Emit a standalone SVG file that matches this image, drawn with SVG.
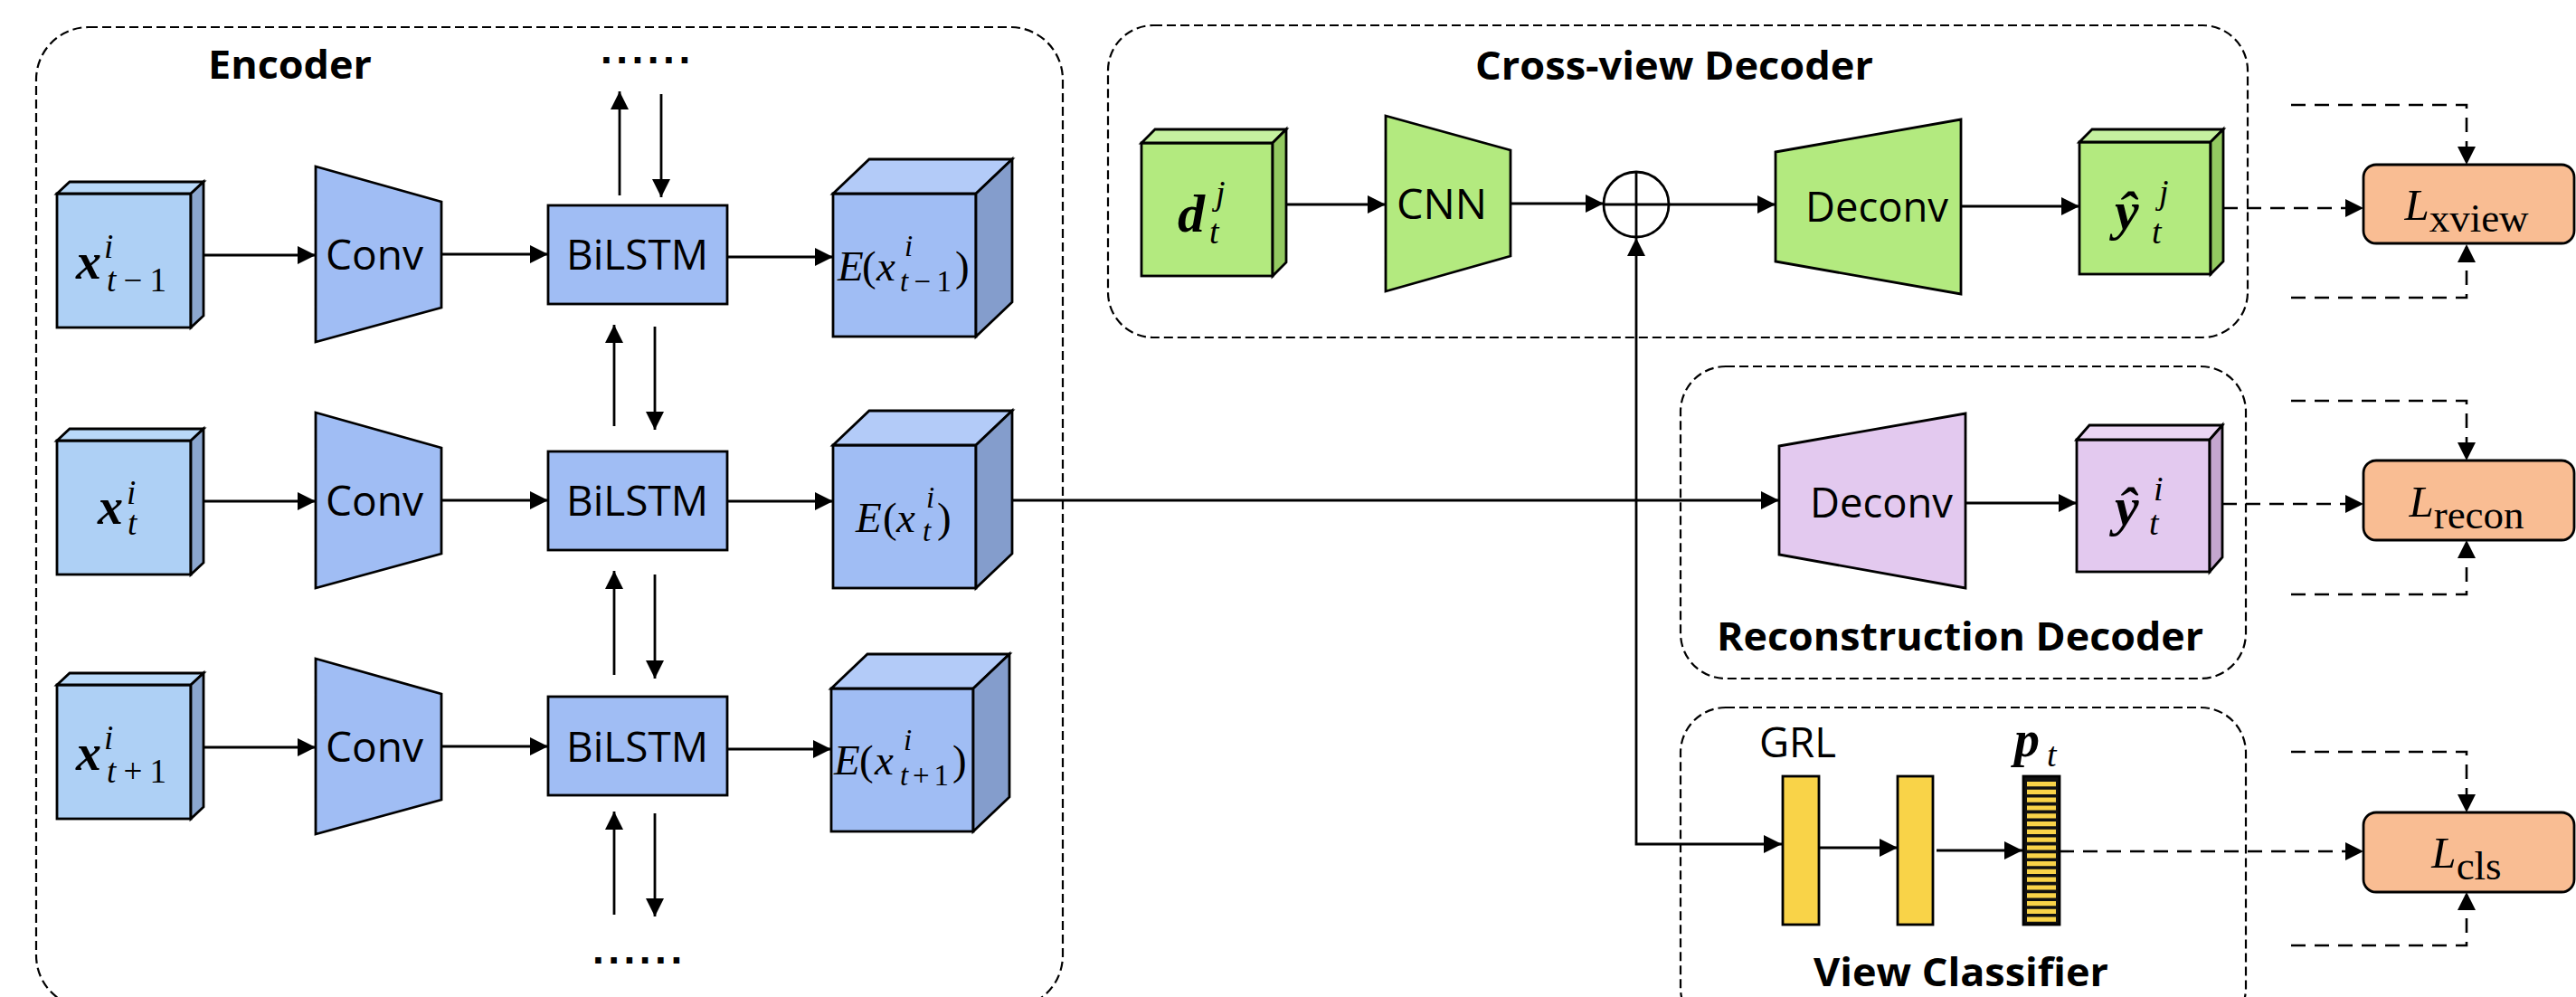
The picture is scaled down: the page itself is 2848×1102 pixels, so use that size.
<svg xmlns="http://www.w3.org/2000/svg" width="2848" height="1102" viewBox="0 0 2848 1102">
<defs>
<marker id="ah" markerUnits="userSpaceOnUse" markerWidth="22" markerHeight="22" refX="20" refY="10" orient="auto"><path d="M0,0 L20,10 L0,20 z" fill="#000"/></marker>
</defs>
<style>
.grp{fill:none;stroke:#000;stroke-width:2.2;stroke-dasharray:10 5}
.sh{stroke:#000;stroke-width:2.8;stroke-linejoin:miter}
.ln{fill:none;stroke:#000;stroke-width:2.8;marker-end:url(#ah)}
.dl{fill:none;stroke:#000;stroke-width:2.6;stroke-dasharray:16 10;marker-end:url(#ah)}
.lbl{font-family:"Open Sans","Liberation Sans",sans-serif;font-size:46px;fill:#000}
.ttl{font-family:"Open Sans","Liberation Sans",sans-serif;font-size:43px;font-weight:700;fill:#000}
.dots{font-family:"Liberation Sans",sans-serif;font-size:46px;font-weight:700;letter-spacing:4.5px;fill:#000}
.m{font-family:"Liberation Serif","DejaVu Serif",serif;fill:#000}
.bi{font-weight:700;font-style:italic}
.it{font-style:italic}
.inf{fill:#aed0f5}.int{fill:#b9d9f9}.ins{fill:#8ba7cf}
.bl{fill:#a0bdf4}.blt{fill:#b3cbf8}.bls{fill:#849dcc}
.gr{fill:#b3ea7f}.grt{fill:#c5f1a0}.grs{fill:#93c961}
.pu{fill:#e3c9ef}.put{fill:#ead5f3}.pus{fill:#c4a6cf}
.ye{fill:#f9d348}
.lo{fill:#f9bd93;stroke:#000;stroke-width:2.8}
</style>

<g id="containers">
<rect id="encoder-box" class="grp" x="40" y="30" width="1135" height="1084" rx="58" ry="58"/>
<rect id="crossview-box" class="grp" x="1225" y="28" width="1260" height="345" rx="50" ry="50"/>
<rect id="recon-box" class="grp" x="1858" y="405" width="625" height="345" rx="50" ry="50"/>
<rect id="cls-box" class="grp" x="1858" y="782" width="625" height="360" rx="50" ry="50"/>
<text class="ttl" x="230" y="87" textLength="181" lengthAdjust="spacingAndGlyphs">Encoder</text>
<text class="ttl" x="1631" y="88" textLength="440" lengthAdjust="spacingAndGlyphs">Cross-view Decoder</text>
<text class="ttl" x="1898" y="719" textLength="538" lengthAdjust="spacingAndGlyphs">Reconstruction Decoder</text>
<text class="ttl" x="2005" y="1090" font-size="42" textLength="326" lengthAdjust="spacingAndGlyphs">View Classifier</text>
</g>

<g id="connectors">
<path class="ln" d="M225,282 H349"/>
<path class="ln" d="M225,554 H349"/>
<path class="ln" d="M225,826 H349"/>
<path class="ln" d="M488,281 H606"/>
<path class="ln" d="M488,553 H606"/>
<path class="ln" d="M488,825 H606"/>
<path class="ln" d="M804,284 H921"/>
<path class="ln" d="M804,554 H921"/>
<path class="ln" d="M804,828 H919"/>
<path class="ln" d="M685,216 V101"/>
<path class="ln" d="M731,104 V218"/>
<path class="ln" d="M679,471 V359"/>
<path class="ln" d="M724,361 V475"/>
<path class="ln" d="M679,746 V631"/>
<path class="ln" d="M724,635 V750"/>
<path class="ln" d="M679,1011 V897"/>
<path class="ln" d="M724,899 V1013"/>
<path class="ln" d="M1119,553 H1967"/>
<path class="ln" d="M1809,553 V263"/>
<path class="ln" d="M1809,553 V933 H1970"/>
<path class="ln" d="M1422,226 H1532"/>
<path class="ln" d="M1670,225 H1773"/>
<path class="ln" d="M1845,226 H1963"/>
<path class="ln" d="M2168,228 H2299"/>
<path class="ln" d="M2173,556 H2296"/>
<path class="ln" d="M2011,937 H2098"/>
<path class="ln" d="M2141,940 H2236"/>
<path class="dl" d="M2458,230 H2613"/>
<path class="dl" d="M2457,557 H2613"/>
<path class="dl" d="M2277,941 H2613"/>
<path class="dl" d="M2533,116 H2727 V182"/>
<path class="dl" d="M2533,329 H2727 V270"/>
<path class="dl" d="M2533,443 H2727 V509"/>
<path class="dl" d="M2533,657 H2727 V597"/>
<path class="dl" d="M2533,831 H2727 V898"/>
<path class="dl" d="M2533,1045 H2727 V986"/>
<text class="dots" x="664" y="70">......</text>
<text class="dots" x="655" y="1065">......</text>
</g>

<g id="x-t-1">
<rect class="sh inf" x="63" y="214" width="148" height="148"/>
<polygon class="sh int" points="63,214 77,201 225,201 211,214"/>
<polygon class="sh ins" points="211,214 225,201 225,349 211,362"/>
<text class="m bi" x="84" y="308" font-size="56">x</text>
<text class="m it" x="115" y="285" font-size="37">i</text>
<text class="m" x="118" y="322" font-size="37" textLength="66" lengthAdjust="spacing"><tspan class="it">t</tspan>−1</text>
</g>
<g id="x-t">
<rect class="sh inf" x="63" y="487" width="148" height="148"/>
<polygon class="sh int" points="63,487 77,474 225,474 211,487"/>
<polygon class="sh ins" points="211,487 225,474 225,622 211,635"/>
<text class="m bi" x="108" y="579" font-size="56">x</text>
<text class="m it" x="140" y="557" font-size="37">i</text>
<text class="m it" x="141" y="591" font-size="37">t</text>
</g>
<g id="x-t+1">
<rect class="sh inf" x="63" y="757" width="148" height="148"/>
<polygon class="sh int" points="63,757 77,744 225,744 211,757"/>
<polygon class="sh ins" points="211,757 225,744 225,892 211,905"/>
<text class="m bi" x="84" y="851" font-size="56">x</text>
<text class="m it" x="115" y="828" font-size="37">i</text>
<text class="m" x="118" y="865" font-size="37" textLength="66" lengthAdjust="spacing"><tspan class="it">t</tspan>+1</text>
</g>

<g id="conv-1"><polygon class="sh bl" points="349,184 488,223 488,340 349,378"/><text class="lbl" x="360" y="298" textLength="108" lengthAdjust="spacingAndGlyphs">Conv</text></g>
<g id="conv-2"><polygon class="sh bl" points="349,456 488,495 488,612 349,650"/><text class="lbl" x="360" y="570" textLength="108" lengthAdjust="spacingAndGlyphs">Conv</text></g>
<g id="conv-3"><polygon class="sh bl" points="349,728 488,767 488,884 349,922"/><text class="lbl" x="360" y="842" textLength="108" lengthAdjust="spacingAndGlyphs">Conv</text></g>

<g id="bilstm-1"><rect class="sh bl" x="606" y="227" width="198" height="109"/><text class="lbl" x="626" y="298" textLength="157" lengthAdjust="spacingAndGlyphs">BiLSTM</text></g>
<g id="bilstm-2"><rect class="sh bl" x="606" y="499" width="198" height="109"/><text class="lbl" x="626" y="570" textLength="157" lengthAdjust="spacingAndGlyphs">BiLSTM</text></g>
<g id="bilstm-3"><rect class="sh bl" x="606" y="770" width="198" height="109"/><text class="lbl" x="626" y="842" textLength="157" lengthAdjust="spacingAndGlyphs">BiLSTM</text></g>

<g id="E-t-1">
<rect class="sh bl" x="921" y="214" width="158" height="158"/>
<polygon class="sh blt" points="921,214 961,176 1119,176 1079,214"/>
<polygon class="sh bls" points="1079,214 1119,176 1119,334 1079,372"/>
<text class="m it" x="926" y="310" font-size="47">E</text>
<text class="m" x="953" y="310" font-size="47">(</text>
<text class="m it" x="969" y="310" font-size="47">x</text>
<text class="m it" x="1000" y="283" font-size="33">i</text>
<text class="m" x="995" y="322" font-size="33" textLength="57" lengthAdjust="spacing"><tspan class="it">t</tspan>−1</text>
<text class="m" x="1056" y="310" font-size="47">)</text>
</g>
<g id="E-t">
<rect class="sh bl" x="921" y="492" width="158" height="158"/>
<polygon class="sh blt" points="921,492 961,454 1119,454 1079,492"/>
<polygon class="sh bls" points="1079,492 1119,454 1119,612 1079,650"/>
<text class="m it" x="946" y="588" font-size="47">E</text>
<text class="m" x="976" y="588" font-size="47">(</text>
<text class="m it" x="991" y="588" font-size="47">x</text>
<text class="m it" x="1024" y="561" font-size="33">i</text>
<text class="m it" x="1020" y="598" font-size="33">t</text>
<text class="m" x="1036" y="588" font-size="47">)</text>
</g>
<g id="E-t+1">
<rect class="sh bl" x="919" y="761" width="157" height="158"/>
<polygon class="sh blt" points="919,761 959,723 1116,723 1076,761"/>
<polygon class="sh bls" points="1076,761 1116,723 1116,881 1076,919"/>
<text class="m it" x="922" y="856" font-size="47">E</text>
<text class="m" x="950" y="856" font-size="47">(</text>
<text class="m it" x="967" y="856" font-size="47">x</text>
<text class="m it" x="999" y="829" font-size="33">i</text>
<text class="m" x="995" y="868" font-size="33" textLength="54" lengthAdjust="spacing"><tspan class="it">t</tspan>+1</text>
<text class="m" x="1053" y="856" font-size="47">)</text>
</g>

<g id="d-t">
<rect class="sh gr" x="1262" y="158" width="145" height="147"/>
<polygon class="sh grt" points="1262,158 1277,143 1422,143 1407,158"/>
<polygon class="sh grs" points="1407,158 1422,143 1422,290 1407,305"/>
<text class="m bi" x="1302" y="256" font-size="60">d</text>
<text class="m it" x="1344" y="226" font-size="38">j</text>
<text class="m it" x="1337" y="269" font-size="38">t</text>
</g>
<g id="cnn"><polygon class="sh gr" points="1532,128 1670,166 1670,283 1532,322"/><text class="lbl" x="1544" y="242" textLength="100" lengthAdjust="spacingAndGlyphs">CNN</text></g>
<g id="sum">
<circle cx="1809" cy="226" r="36" fill="#fff" stroke="#000" stroke-width="2.8"/>
<path d="M1773,226 H1845 M1809,190 V262" stroke="#000" stroke-width="2.8"/>
</g>
<g id="deconv-xview"><polygon class="sh gr" points="1963,168 2168,132 2168,325 1963,289"/><text class="lbl" x="1996" y="245" textLength="158" lengthAdjust="spacingAndGlyphs">Deconv</text></g>
<g id="y-hat-j">
<rect class="sh gr" x="2299" y="157" width="145" height="146"/>
<polygon class="sh grt" points="2299,157 2313,143 2458,143 2444,157"/>
<polygon class="sh grs" points="2444,157 2458,143 2458,289 2444,303"/>
<text class="m bi" x="2338" y="253" font-size="60">ŷ</text>
<text class="m it" x="2387" y="225" font-size="38">j</text>
<text class="m it" x="2379" y="269" font-size="38">t</text>
</g>

<g id="deconv-recon"><polygon class="sh pu" points="1967,493 2173,457 2173,650 1967,613"/><text class="lbl" x="2001" y="572" textLength="158" lengthAdjust="spacingAndGlyphs">Deconv</text></g>
<g id="y-hat-i">
<rect class="sh pu" x="2296" y="486" width="147" height="146"/>
<polygon class="sh put" points="2296,486 2310,470 2457,470 2443,486"/>
<polygon class="sh pus" points="2443,486 2457,470 2457,616 2443,632"/>
<text class="m bi" x="2338" y="580" font-size="60">ŷ</text>
<text class="m it" x="2381" y="553" font-size="38">i</text>
<text class="m it" x="2376" y="591" font-size="38">t</text>
</g>

<g id="grl">
<text class="lbl" x="1945" y="837" font-size="40" textLength="85" lengthAdjust="spacingAndGlyphs">GRL</text>
<rect class="sh ye" x="1971" y="858" width="40" height="164"/>
</g>
<g id="fc"><rect class="sh ye" x="2098" y="858" width="39" height="164"/></g>
<g id="p-t">
<rect x="2237" y="858" width="40" height="164" fill="#111" stroke="#000" stroke-width="2.8"/>
<line x1="2257" y1="864" x2="2257" y2="1020" stroke="#f9d348" stroke-width="32" stroke-dasharray="5.2 3.6"/>
<text class="m bi" x="2227" y="836" font-size="56">p</text>
<text class="m it" x="2263" y="847" font-size="38">t</text>
</g>

<g id="L-xview">
<rect class="lo" x="2613" y="182" width="233" height="87" rx="14" ry="14"/>
<text class="m" x="2727" y="243" text-anchor="middle"><tspan class="it" font-size="49">L</tspan><tspan font-size="45" dy="13">xview</tspan></text>
</g>
<g id="L-recon">
<rect class="lo" x="2613" y="509" width="233" height="88" rx="14" ry="14"/>
<text class="m" x="2727" y="571" text-anchor="middle"><tspan class="it" font-size="49">L</tspan><tspan font-size="45" dy="13">recon</tspan></text>
</g>
<g id="L-cls">
<rect class="lo" x="2613" y="898" width="233" height="88" rx="14" ry="14"/>
<text class="m" x="2727" y="959" text-anchor="middle"><tspan class="it" font-size="49">L</tspan><tspan font-size="45" dy="13">cls</tspan></text>
</g>
</svg>
